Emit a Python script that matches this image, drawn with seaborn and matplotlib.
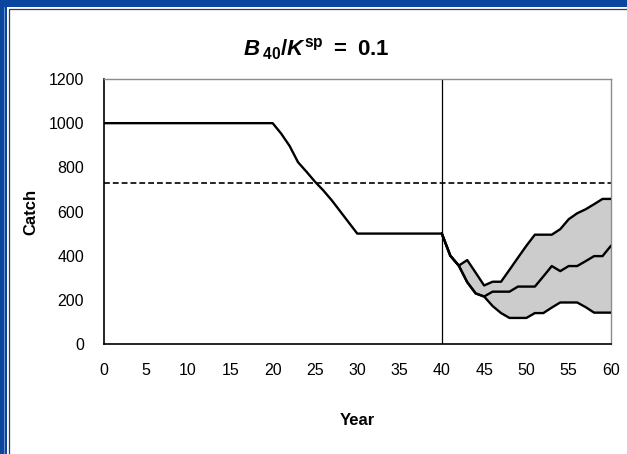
import matplotlib
matplotlib.use("Agg")
import matplotlib.pyplot as plt
import numpy as np
import pandas as pd
import seaborn as sns
from matplotlib.lines import Line2D
from matplotlib.patches import Rectangle

# Historical catch, years 0-40
hist_years = list(range(0, 41))
hist_catch = [1000, 1000, 1000, 1000, 1000, 1000, 1000, 1000, 1000, 1000,
              1000, 1000, 1000, 1000, 1000, 1000, 1000, 1000, 1000, 1000,
              1000, 953, 897, 823, 780, 735, 695, 650, 600, 550,
              500, 500, 500, 500, 500, 500, 500, 500, 500, 500, 500]

# Projected catch, years 40-60: median and upper / lower bounds
proj_years = list(range(40, 61))
proj_upper = [500, 400, 355, 380, 323, 265, 282, 282, 336, 391, 445,
              495, 495, 495, 520, 565, 592, 610, 633, 657, 657]
proj_median = [500, 400, 355, 280, 229, 215, 237, 237, 237, 260, 260,
               260, 306, 353, 330, 353, 353, 375, 398, 398, 445]
proj_lower = [500, 400, 355, 280, 229, 215, 172, 140, 118, 118, 118,
              140, 140, 165, 188, 188, 188, 167, 142, 142, 142]

reference_catch = 730
projection_start = 40

x_ticks = list(range(0, 61, 5))
y_ticks = list(range(0, 1201, 200))

sns.set_style("white")
plt.rcParams["font.family"] = ["Liberation Sans", "DejaVu Sans"]
plt.rcParams["text.color"] = "black"
plt.rcParams["axes.labelcolor"] = "black"
plt.rcParams["mathtext.fontset"] = "custom"
plt.rcParams["mathtext.rm"] = "Liberation Sans:bold"
plt.rcParams["mathtext.bf"] = "Liberation Sans:bold"
plt.rcParams["mathtext.it"] = "Liberation Sans:italic:bold"

W, H = 627, 454
fig = plt.figure(figsize=(W / 100, H / 100), dpi=100)
fig.patch.set_facecolor("white")

# window-style frame around the chart
blue = "#0a459e"
fig.add_artist(Rectangle((0, 1 - 7 / H), 1, 7 / H, transform=fig.transFigure,
                         facecolor=blue, edgecolor="none", zorder=0))
fig.add_artist(Rectangle((0, 0), 7 / W, 1, transform=fig.transFigure,
                         facecolor=blue, edgecolor="none", zorder=0))
fig.add_artist(Line2D([3.5 / W, 3.5 / W], [0, 1 - 7 / H], transform=fig.transFigure,
                      color="#7fa0d0", lw=0.6))
fig.add_artist(Line2D([8.5 / W, 8.5 / W, 1], [0, 1 - 8.5 / H, 1 - 8.5 / H],
                      transform=fig.transFigure, color="#303a50", lw=0.9))

left, right, top, bottom = 103.5, 611, 79, 344
ax = fig.add_axes([left / W, (H - bottom) / H, (right - left) / W, (bottom - top) / H])

hist_df = pd.DataFrame({"Year": hist_years, "Catch": hist_catch})
proj_df = pd.DataFrame({"Year": proj_years, "Upper": proj_upper,
                        "Median": proj_median, "Lower": proj_lower})

ax.fill_between(proj_df["Year"], proj_df["Lower"], proj_df["Upper"],
                facecolor="#cccccc", edgecolor="none", zorder=1)
sns.lineplot(data=hist_df, x="Year", y="Catch", ax=ax, color="black", lw=1.7, zorder=3)
for col in ["Upper", "Median", "Lower"]:
    sns.lineplot(data=proj_df, x="Year", y=col, ax=ax, color="black", lw=1.7, zorder=3)

ax.axhline(reference_catch, color="black", lw=1.2, ls=(0, (3.5, 1.8)), zorder=2)
ax.axvline(projection_start, color="black", lw=0.9, zorder=2)

ax.set_xlim(0, 60)
ax.set_ylim(0, 1200)
ax.set_xticks(x_ticks)
ax.set_yticks(y_ticks)
ax.tick_params(axis="both", direction="out", length=4, width=1, color="black",
               labelsize=11.5, labelcolor="black")
ax.tick_params(axis="x", pad=10)
ax.tick_params(axis="y", pad=10)

for s in ["left", "bottom"]:
    ax.spines[s].set_color("black")
    ax.spines[s].set_linewidth(1.2)
for s in ["top", "right"]:
    ax.spines[s].set_color("#8c8c8c")
    ax.spines[s].set_linewidth(1.0)

ax.set_xlabel("Year", fontsize=12, fontweight="bold", labelpad=25)
ax.set_ylabel("Catch", fontsize=12, fontweight="bold", labelpad=7)

fig.text(316 / W, 1 - 49 / H,
         r"$\mathit{B}\,_{\mathbf{40}}\mathbf{/}\mathit{K}^{\mathbf{sp}}\mathbf{\ =\ 0.1}$",
         ha="center", va="center", fontsize=16, color="black")

fig.savefig("out.png", dpi=100)
